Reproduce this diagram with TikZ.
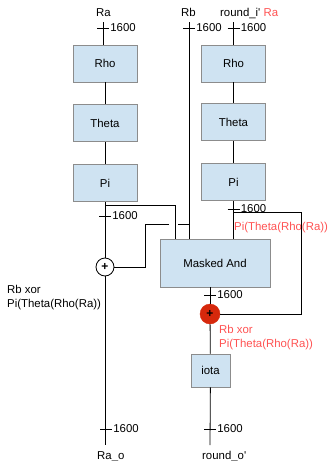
\documentclass[tikz,border=0pt]{standalone}
\usepackage{fontspec}
\setmainfont{Liberation Sans}
\usetikzlibrary{positioning}
\definecolor{boxblue}{RGB}{207,227,242}
\definecolor{boxedge}{RGB}{140,140,140}
\definecolor{xorred}{RGB}{214,40,12}
\definecolor{notered}{RGB}{255,82,82}

\begin{document}
\begin{tikzpicture}[
      x=1pt, y=-1pt,
      every node/.style={font=\fontsize{11.4}{14}\selectfont, inner sep=1pt},
      block/.style={rectangle, draw=boxedge, fill=boxblue, line width=0.8pt, minimum width=64pt, minimum height=37pt, inner sep=0pt},
      xorw/.style={circle, draw=black, fill=white, line width=0.8pt, minimum size=18pt, inner sep=0pt, font=\fontsize{12}{12}\selectfont\bfseries},
      xorhot/.style={circle, draw=xorred, fill=xorred, minimum size=20pt, inner sep=0pt, font=\fontsize{12}{12}\selectfont\bfseries},
      wire/.style={line width=0.8pt},
      note/.style={text=notered, align=left}
    ]
    \useasboundingbox (0,0) rectangle (331,461);

    % Nodes
    \node[block] (rho1) at (105,63.5) {Rho};
    \node[block, below=22pt of rho1] (theta1) {Theta};
    \node[block, below=22pt of theta1] (pi1) {Pi};

    \node[block] (rho2) at (233.5,63.5) {Rho};
    \node[block, below=21pt of rho2] (theta2) {Theta};
    \node[block, below=22pt of theta2] (pi2) {Pi};

    \node[block, minimum width=110pt, minimum height=48pt] (masked) at (215,263) {Masked And};
    \node[xorw] (xl) at (105,267) {+};
    \node[xorhot] (xr) at (210,314) {+};
    \node[block, minimum width=39pt, minimum height=33pt] (iota) at (210.5,370.5) {iota};

    % Ends and taps
    \coordinate (rain) at (103,22);
    \coordinate (rbin) at (189,22);
    \coordinate (riin) at (233.5,22);
    \coordinate (raout) at (105,445);
    \coordinate (roout) at (210,445);
    \coordinate (tapa) at (105,205);
    \coordinate (tapb) at (189,224);
    \coordinate (hopl) at (169,224);
    \coordinate (bendb) at (145,224);
    \coordinate (tapc) at (233.5,212);
    \coordinate (loopc) at (301,212);

    % Bus width marks
    \coordinate (tra) at (103,28);
    \coordinate (trb) at (189,28);
    \coordinate (tri) at (233.5,28);
    \coordinate (tpa) at (105,216);
    \coordinate (tpi) at (233.5,209);
    \coordinate (tma) at (210,295);
    \coordinate (tlo) at (106,429);
    \coordinate (tro) at (210,429);

    % Labels
    \node[anchor=base] (ralab) at (103.5,16) {Ra};
    \node[anchor=base] (rblab) at (188.5,16) {Rb};
    \node[anchor=base west] (rilab) at (219,16) {round\_i\textquotesingle\ \textcolor{notered}{Ra}};
    \node[anchor=base west] (ralo) at (96,459) {Ra\_o};
    \node[anchor=base west] (rolab) at (201,459) {round\_o\textquotesingle};
    \node[anchor=west, align=left, font=\fontsize{11.4}{14.5}\selectfont] (xlnote) at (6,297.5) {Rb xor\\Pi(Theta(Rho(Ra))};
    \node[note, anchor=west] (pinote) at (233,228) {Pi(Theta(Rho(Ra))};
    \node[note, anchor=west] (xrnote) at (218,338) {Rb xor\\Pi(Theta(Rho(Ra))};

    % Wires
    \draw[wire] (rain) -- (rain |- rho1.north);
    \draw[wire] (rho1) -- (theta1);
    \draw[wire] (theta1) -- (pi1);
    \draw[wire] (pi1) -- (xl);
    \draw[wire] (tapa) -| ([xshift=-40pt]masked.north);
    \draw[wire] (xl) -- (raout);

    \draw[wire] (rbin) -- (rbin |- masked.north);
    \draw[wire] (tapb) -- ++(-11,0);
    \draw[wire] (hopl) -- (bendb) |- (xl);

    \draw[wire] (riin) -- (rho2);
    \draw[wire] (rho2) -- (theta2);
    \draw[wire] (theta2) -- (pi2);
    \draw[wire] (pi2) -- (pi2 |- masked.north);
    \draw[wire] (tapc) -- (loopc) |- (xr);
    \draw[wire] ([xshift=-5pt]masked.south) -- (xr);
    \draw[wire] (xr) -- (iota);
    \draw[wire] (iota) -- (roout);

    \foreach \t in {tra,trb,tri,tpa,tpi,tma,tlo,tro}
      \draw[wire] ([xshift=-6pt]\t) -- ([xshift=6pt]\t) node[right] {1600};

    \end{tikzpicture}
\end{document}
